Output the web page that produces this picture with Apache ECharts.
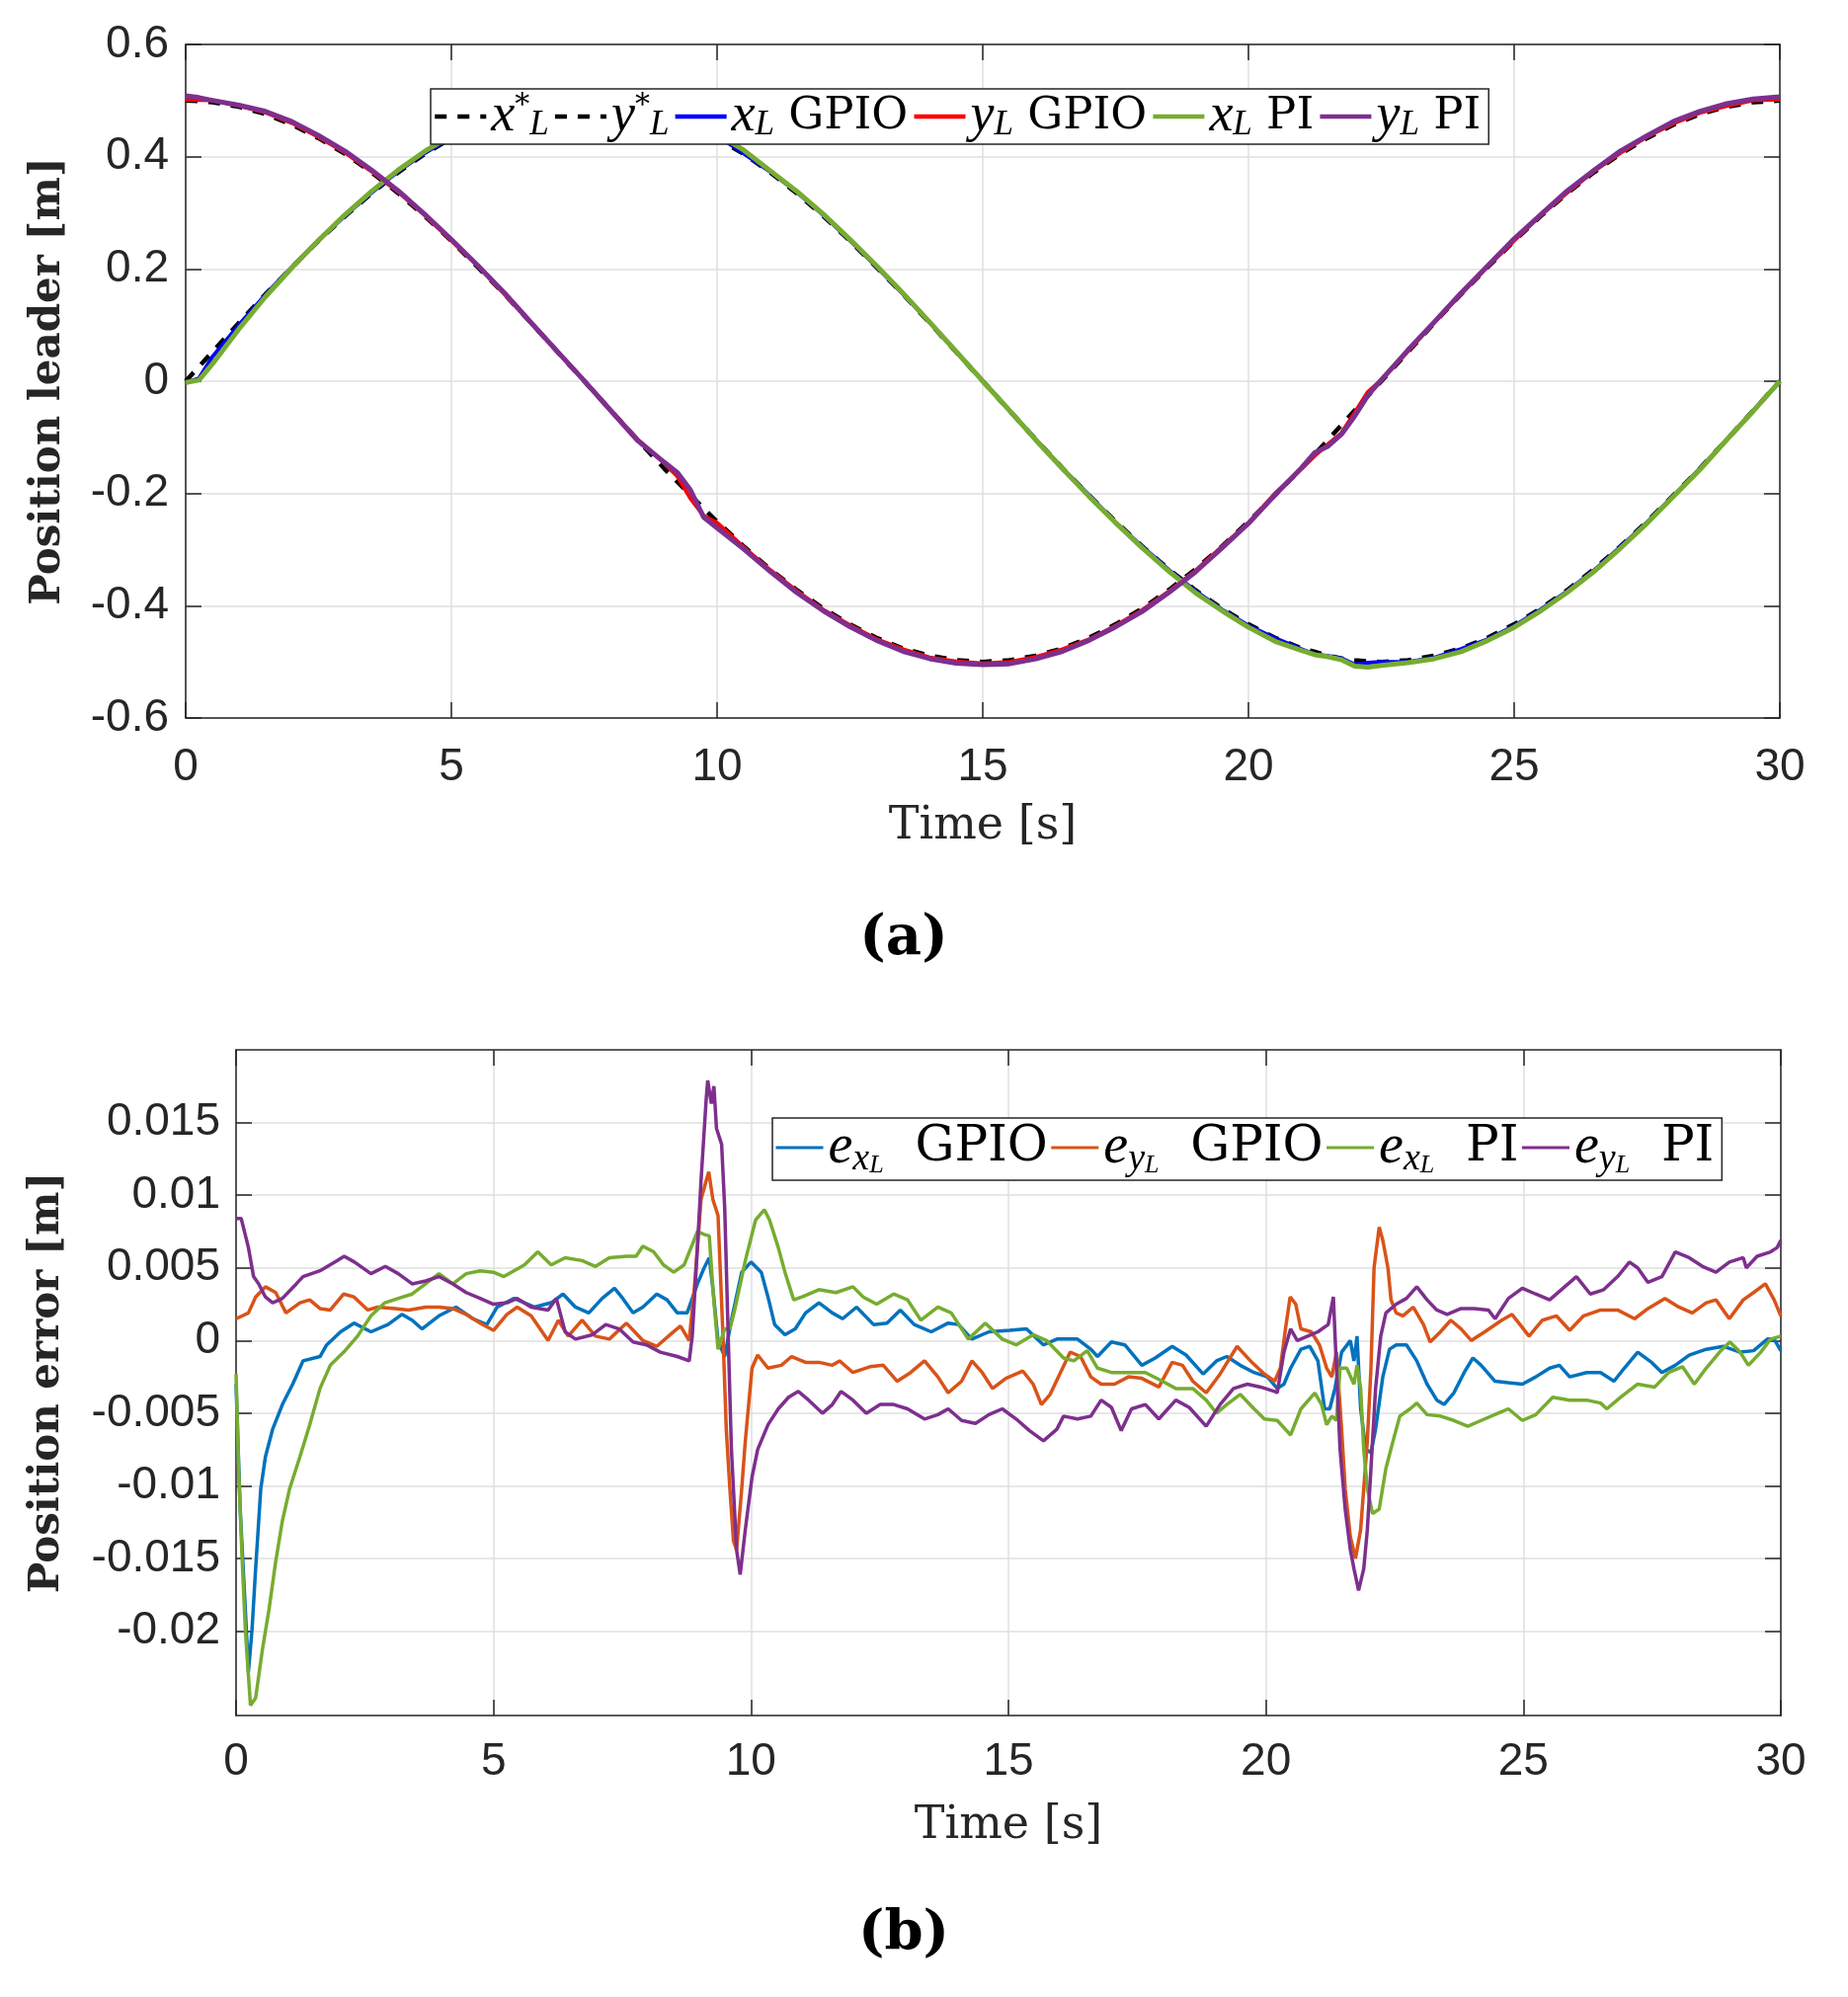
<!DOCTYPE html>
<html>
<head>
<meta charset="utf-8">
<script src="https://cdn.jsdelivr.net/npm/echarts@6.0.0/dist/echarts.min.js"></script>
<style>
  html, body { margin: 0; padding: 0; background: #fff; }
  #chart { width: 1871px; height: 2022px; }
</style>
</head>
<body>
<div id="chart"></div>
<script>
// ---- (a) leader position, sampled times [s] ----
const timeA = [0, 0.25, 0.5, 1, 1.5, 2, 2.5, 3, 3.5, 4, 4.5, 5, 5.5, 6, 6.5, 7, 7.5, 8, 8.5, 9, 9.25, 9.5, 9.75,
  10, 10.5, 11, 11.5, 12, 12.5, 13, 13.5, 14, 14.5, 15, 15.5, 16, 16.5, 17, 17.5, 18, 18.5, 19, 19.5, 20, 20.5,
  21, 21.25, 21.5, 21.75, 22, 22.25, 22.5, 23, 23.5, 24, 24.5, 25, 25.5, 26, 26.5, 27, 27.5, 28, 28.5, 29, 29.5, 30];

const xRef = [0, 0.026, 0.052, 0.104, 0.155, 0.203, 0.25, 0.294, 0.335, 0.372, 0.405, 0.433, 0.457, 0.476, 0.489, 0.497, 0.5, 0.497, 0.489, 0.476, 0.467, 0.457, 0.446,
  0.433, 0.405, 0.372, 0.335, 0.294, 0.25, 0.203, 0.155, 0.104, 0.052, 0, -0.052, -0.104, -0.155, -0.203, -0.25, -0.294, -0.335, -0.372, -0.405, -0.433, -0.457,
  -0.476, -0.482, -0.489, -0.494, -0.497, -0.499, -0.5, -0.497, -0.489, -0.476, -0.457, -0.433, -0.405, -0.372, -0.335, -0.294, -0.25, -0.203, -0.155, -0.104, -0.052, 0];
const yRef = [0.5, 0.499, 0.497, 0.489, 0.476, 0.457, 0.433, 0.405, 0.372, 0.335, 0.294, 0.25, 0.203, 0.155, 0.104, 0.052, 0, -0.052, -0.104, -0.155, -0.179, -0.203, -0.227,
  -0.25, -0.294, -0.335, -0.372, -0.405, -0.433, -0.457, -0.476, -0.489, -0.497, -0.5, -0.497, -0.489, -0.476, -0.457, -0.433, -0.405, -0.372, -0.335, -0.294, -0.25, -0.203,
  -0.155, -0.13, -0.104, -0.078, -0.052, -0.026, 0, 0.052, 0.104, 0.155, 0.203, 0.25, 0.294, 0.335, 0.372, 0.405, 0.433, 0.457, 0.476, 0.489, 0.497, 0.5];
const xGpio = [-0.003, 0.005, 0.043, 0.1, 0.154, 0.2035, 0.251, 0.295, 0.336, 0.374, 0.4065, 0.435, 0.46, 0.478, 0.492, 0.4995, 0.503, 0.499, 0.491, 0.48, 0.471, 0.456, 0.45,
  0.438, 0.406, 0.3735, 0.337, 0.296, 0.251, 0.204, 0.1555, 0.105, 0.0525, 0.0007, -0.052, -0.104, -0.1555, -0.203, -0.2515, -0.2945, -0.336, -0.3735, -0.4067, -0.4355, -0.4575,
  -0.4774, -0.4865, -0.4895, -0.4937, -0.5047, -0.5015, -0.5003, -0.5, -0.4926, -0.4772, -0.4599, -0.436, -0.4069, -0.3742, -0.3372, -0.2953, -0.2514, -0.2038, -0.1554, -0.1045, -0.0527, -0.0007];
const yGpio = [0.5015, 0.501, 0.5006, 0.491, 0.4788, 0.46, 0.4352, 0.4072, 0.3738, 0.3373, 0.2957, 0.2507, 0.2052, 0.1552, 0.1045, 0.0523, 0.001, -0.0521, -0.1034, -0.1453, -0.1692, -0.209, -0.24,
  -0.252, -0.2957, -0.3364, -0.3736, -0.4072, -0.4347, -0.4594, -0.4776, -0.492, -0.4991, -0.5026, -0.5003, -0.4912, -0.4775, -0.46, -0.4356, -0.4075, -0.3746, -0.3378, -0.2947, -0.2526, -0.2,
  -0.1552, -0.1325, -0.112, -0.0923, -0.056, -0.0188, 0.002, 0.0533, 0.105, 0.1551, 0.2043, 0.2508, 0.2956, 0.336, 0.3741, 0.4068, 0.4354, 0.4593, 0.4785, 0.4905, 0.5004, 0.5017];
const xPi = [-0.0023, 0.002, 0.0305, 0.093, 0.1505, 0.2024, 0.251, 0.2968, 0.3385, 0.3764, 0.4096, 0.4377, 0.462, 0.4815, 0.4946, 0.5021, 0.5058, 0.5033, 0.4937, 0.4834, 0.471, 0.4578, 0.4495,
  0.4405, 0.4118, 0.375, 0.3384, 0.2976, 0.2528, 0.2059, 0.1568, 0.1053, 0.0528, 0.0001, -0.0517, -0.105, -0.1558, -0.2052, -0.2522, -0.2968, -0.3383, -0.3768, -0.4087, -0.4384, -0.4633,
  -0.4798, -0.4873, -0.4909, -0.4962, -0.5078, -0.5095, -0.5062, -0.5015, -0.4943, -0.4818, -0.462, -0.4385, -0.4092, -0.3761, -0.3393, -0.2974, -0.2531, -0.2049, -0.1571, -0.1042, -0.0531, 0.0003];
const yPi = [0.5084, 0.5053, 0.5003, 0.4917, 0.4807, 0.4625, 0.4379, 0.4099, 0.376, 0.3393, 0.2973, 0.2525, 0.2057, 0.1571, 0.1043, 0.0526, 0.0006, -0.0523, -0.1051, -0.144, -0.1625, -0.194, -0.2425,
  -0.2613, -0.2989, -0.3389, -0.3766, -0.4091, -0.4374, -0.4617, -0.4812, -0.4943, -0.5023, -0.505, -0.5035, -0.4946, -0.4812, -0.4616, -0.4376, -0.4102, -0.3766, -0.34, -0.2971, -0.2533, -0.2025,
  -0.1544, -0.127, -0.1155, -0.0945, -0.062, -0.0248, 0.0024, 0.0553, 0.1058, 0.1572, 0.2053, 0.2536, 0.2968, 0.3393, 0.3755, 0.4102, 0.4372, 0.463, 0.4811, 0.4944, 0.5028, 0.5069];

// ---- (b) position errors [t, e] ----
const exGpio = [[0,-0.003],[0.08,-0.0116],[0.18,-0.0185],[0.24,-0.0228],[0.31,-0.0199],[0.38,-0.0157],[0.48,-0.0102],[0.57,-0.008],[0.71,-0.0061],[0.9,-0.0044],[1.1,-0.003],[1.3,-0.0014],[1.63,-0.0011],[1.76,-0.0003],[2.03,0.0006],[2.29,0.0012],[2.62,0.0006],[2.95,0.0011],[3.22,0.0018],[3.42,0.0014],[3.61,0.0008],[3.94,0.0017],[4.27,0.0023],[4.6,0.0015],[4.87,0.0011],[5.07,0.0023],[5.4,0.0029],[5.79,0.0023],[6.12,0.0026],[6.35,0.0032],[6.59,0.0023],[6.85,0.0019],[7.11,0.0029],[7.35,0.0036],[7.51,0.0029],[7.71,0.0019],[7.9,0.0023],[8.17,0.0032],[8.37,0.0028],[8.57,0.0019],[8.76,0.0019],[8.96,0.0039],[9.09,0.005],[9.19,0.0057],[9.26,0.0036],[9.36,0],[9.49,-0.0011],[9.62,0.0014],[9.82,0.0047],[10,0.0054],[10.2,0.0047],[10.33,0.003],[10.46,0.0011],[10.66,0.0004],[10.86,0.0008],[11.06,0.0019],[11.32,0.0026],[11.58,0.0019],[11.78,0.0015],[12.05,0.0023],[12.38,0.0011],[12.64,0.0012],[12.9,0.0021],[13.17,0.0011],[13.5,0.0006],[13.83,0.0012],[14.03,0.0011],[14.29,0.0001],[14.62,0.0006],[15.02,0.0007],[15.35,0.0008],[15.68,-0.0003],[15.94,0.0001],[16.34,0.0001],[16.6,-0.0006],[16.73,-0.0011],[17,-0.0001],[17.26,-0.0003],[17.59,-0.0017],[17.85,-0.0012],[18.18,-0.0004],[18.45,-0.001],[18.78,-0.0023],[19.04,-0.0014],[19.24,-0.0011],[19.5,-0.0017],[19.77,-0.0022],[20.03,-0.0025],[20.22,-0.0033],[20.35,-0.003],[20.48,-0.0019],[20.68,-0.0006],[20.85,-0.0004],[21.01,-0.0014],[21.14,-0.0047],[21.24,-0.0047],[21.34,-0.0033],[21.47,-0.0008],[21.64,0],[21.71,-0.0014],[21.77,0.0003],[21.84,-0.0047],[21.94,-0.0075],[22.04,-0.0077],[22.13,-0.0061],[22.27,-0.0025],[22.4,-0.0006],[22.53,-0.0003],[22.73,-0.0003],[22.93,-0.0014],[23.13,-0.003],[23.32,-0.0041],[23.46,-0.0044],[23.65,-0.0036],[23.85,-0.0022],[24.02,-0.0012],[24.18,-0.0017],[24.45,-0.0028],[24.71,-0.0029],[24.98,-0.003],[25.24,-0.0025],[25.51,-0.0019],[25.7,-0.0017],[25.9,-0.0025],[26.23,-0.0022],[26.5,-0.0022],[26.76,-0.0028],[26.96,-0.0019],[27.22,-0.0008],[27.49,-0.0015],[27.69,-0.0022],[27.95,-0.0017],[28.22,-0.001],[28.55,-0.0006],[28.88,-0.0004],[29.21,-0.0008],[29.47,-0.0007],[29.74,0.0001],[29.87,0.0001],[30,-0.0007]];
const eyGpio = [[0,0.0015],[0.24,0.0019],[0.38,0.003],[0.57,0.0037],[0.77,0.0033],[0.97,0.0019],[1.24,0.0026],[1.43,0.0028],[1.63,0.0022],[1.83,0.0021],[2.09,0.0032],[2.29,0.003],[2.56,0.0021],[2.75,0.0023],[3.09,0.0022],[3.35,0.0021],[3.68,0.0023],[3.94,0.0023],[4.21,0.0022],[4.47,0.0018],[4.74,0.0012],[5,0.0007],[5.26,0.0018],[5.46,0.0023],[5.73,0.0017],[6.06,0],[6.26,0.0014],[6.45,0.0003],[6.72,0.0014],[6.98,0.0003],[7.25,0.0001],[7.58,0.0012],[7.9,0],[8.17,-0.0004],[8.43,0.0004],[8.63,0.001],[8.8,0],[8.9,0.0036],[9.03,0.0097],[9.13,0.011],[9.18,0.0116],[9.26,0.0097],[9.36,0.0086],[9.46,0],[9.52,-0.0061],[9.59,-0.0102],[9.66,-0.0138],[9.72,-0.0144],[9.82,-0.0102],[9.89,-0.0069],[10.02,-0.0019],[10.13,-0.001],[10.33,-0.0019],[10.59,-0.0017],[10.79,-0.0011],[11.06,-0.0015],[11.32,-0.0015],[11.58,-0.0017],[11.72,-0.0014],[11.98,-0.0022],[12.31,-0.0018],[12.57,-0.0017],[12.84,-0.0028],[13.1,-0.0022],[13.37,-0.0014],[13.63,-0.0025],[13.83,-0.0036],[14.09,-0.0028],[14.29,-0.0014],[14.49,-0.0022],[14.69,-0.0033],[14.95,-0.0026],[15.28,-0.0021],[15.48,-0.003],[15.64,-0.0044],[15.81,-0.0037],[16.01,-0.0022],[16.2,-0.0008],[16.4,-0.0011],[16.6,-0.0025],[16.8,-0.003],[17.06,-0.003],[17.33,-0.0025],[17.59,-0.0026],[17.92,-0.0032],[18.18,-0.0015],[18.38,-0.0017],[18.58,-0.0028],[18.84,-0.0036],[19.11,-0.0023],[19.44,-0.0004],[19.7,-0.0014],[19.97,-0.0023],[20.17,-0.0028],[20.28,-0.0019],[20.38,0.0008],[20.47,0.003],[20.58,0.0025],[20.68,0.0008],[20.88,0.0006],[21.04,-0.0003],[21.18,-0.0019],[21.28,-0.0025],[21.37,-0.0008],[21.47,-0.0061],[21.54,-0.0102],[21.64,-0.0135],[21.74,-0.015],[21.84,-0.013],[21.9,-0.0102],[21.97,-0.0069],[22.04,-0.0019],[22.1,0.005],[22.2,0.0078],[22.27,0.0069],[22.37,0.005],[22.43,0.0028],[22.53,0.0019],[22.66,0.0017],[22.86,0.0023],[23.06,0.0011],[23.19,-0.0001],[23.39,0.0006],[23.59,0.0014],[23.79,0.0008],[23.99,0],[24.25,0.0006],[24.58,0.0014],[24.78,0.0018],[25.11,0.0003],[25.37,0.0014],[25.64,0.0017],[25.9,0.0007],[26.17,0.0017],[26.5,0.0021],[26.83,0.0021],[27.16,0.0015],[27.42,0.0022],[27.75,0.0029],[28.02,0.0023],[28.28,0.0019],[28.55,0.0026],[28.74,0.0028],[29,0.0015],[29.27,0.0028],[29.47,0.0033],[29.7,0.0039],[29.87,0.0028],[30,0.0017]];
const exPi = [[0,-0.0023],[0.05,-0.0088],[0.11,-0.0144],[0.18,-0.0199],[0.28,-0.0251],[0.38,-0.0246],[0.51,-0.0213],[0.64,-0.0185],[0.77,-0.0152],[0.9,-0.0124],[1.04,-0.0102],[1.24,-0.008],[1.43,-0.0058],[1.63,-0.0033],[1.83,-0.0017],[2.09,-0.0008],[2.36,0.0003],[2.62,0.0017],[2.89,0.0026],[3.15,0.0029],[3.42,0.0032],[3.68,0.0039],[3.94,0.0046],[4.21,0.0039],[4.47,0.0046],[4.74,0.0048],[5,0.0047],[5.2,0.0044],[5.6,0.0052],[5.86,0.0061],[6.12,0.0052],[6.39,0.0057],[6.72,0.0055],[6.98,0.0051],[7.25,0.0057],[7.58,0.0058],[7.77,0.0058],[7.9,0.0065],[8.11,0.0061],[8.3,0.0052],[8.5,0.0047],[8.7,0.0052],[8.86,0.0066],[8.96,0.0075],[9.09,0.0073],[9.19,0.0072],[9.26,0.0036],[9.36,-0.0006],[9.49,0.0008],[9.59,0.0008],[9.69,0.0022],[9.89,0.0055],[10.09,0.0083],[10.26,0.009],[10.36,0.0083],[10.53,0.0064],[10.66,0.0047],[10.83,0.0028],[10.99,0.003],[11.32,0.0035],[11.65,0.0033],[11.98,0.0037],[12.18,0.003],[12.44,0.0025],[12.77,0.0032],[13.04,0.0028],[13.3,0.0014],[13.63,0.0023],[13.89,0.0019],[14.22,0.0001],[14.55,0.0012],[14.88,0.0001],[15.15,-0.0003],[15.48,0.0004],[15.74,0],[16.07,-0.0012],[16.27,-0.0014],[16.53,-0.0007],[16.73,-0.0019],[17,-0.0022],[17.33,-0.0022],[17.66,-0.0022],[17.99,-0.0028],[18.25,-0.0033],[18.58,-0.0033],[18.84,-0.0041],[19.04,-0.005],[19.24,-0.0044],[19.5,-0.0037],[19.77,-0.0047],[19.97,-0.0054],[20.22,-0.0055],[20.48,-0.0065],[20.68,-0.0047],[20.95,-0.0036],[21.08,-0.0044],[21.18,-0.0058],[21.28,-0.0052],[21.37,-0.0055],[21.44,-0.0019],[21.57,-0.0019],[21.71,-0.003],[21.77,-0.0017],[21.84,-0.0033],[21.9,-0.0075],[21.97,-0.0102],[22.07,-0.0119],[22.2,-0.0116],[22.33,-0.0088],[22.47,-0.0069],[22.6,-0.0052],[22.8,-0.0047],[22.93,-0.0043],[23.13,-0.0051],[23.39,-0.0052],[23.65,-0.0055],[23.92,-0.0059],[24.18,-0.0055],[24.51,-0.005],[24.71,-0.0047],[24.98,-0.0055],[25.24,-0.0051],[25.57,-0.0039],[25.9,-0.0041],[26.23,-0.0041],[26.5,-0.0043],[26.62,-0.0047],[26.89,-0.0039],[27.22,-0.003],[27.55,-0.0032],[27.82,-0.0022],[28.09,-0.0018],[28.32,-0.003],[28.55,-0.0019],[28.81,-0.0008],[29.01,-0.0001],[29.21,-0.0008],[29.37,-0.0017],[29.61,-0.0008],[29.8,0.0001],[30,0.0003]];
const eyPi = [[0,0.0084],[0.1,0.0084],[0.24,0.0064],[0.34,0.0044],[0.44,0.0039],[0.57,0.003],[0.71,0.0026],[0.9,0.0029],[1.17,0.0039],[1.3,0.0044],[1.63,0.0048],[1.96,0.0055],[2.1,0.0058],[2.3,0.0054],[2.62,0.0046],[2.9,0.0051],[3.15,0.0046],[3.42,0.0039],[3.68,0.0041],[3.94,0.0044],[4.21,0.0039],[4.47,0.0033],[4.74,0.0029],[5,0.0025],[5.26,0.0026],[5.46,0.0029],[5.73,0.0023],[6.06,0.0021],[6.22,0.0029],[6.39,0.0006],[6.59,0.0001],[6.92,0.0004],[7.18,0.0011],[7.44,0.0008],[7.71,-0.0001],[7.97,-0.0003],[8.24,-0.0008],[8.57,-0.0011],[8.8,-0.0014],[8.86,0.0003],[8.96,0.0064],[9.03,0.011],[9.13,0.0166],[9.16,0.0179],[9.23,0.0163],[9.28,0.0175],[9.33,0.0146],[9.43,0.0135],[9.49,0.0091],[9.56,0],[9.62,-0.0075],[9.72,-0.0144],[9.79,-0.0161],[9.89,-0.013],[10.02,-0.0094],[10.13,-0.0075],[10.33,-0.0058],[10.53,-0.0047],[10.73,-0.0039],[10.92,-0.0035],[11.12,-0.0041],[11.39,-0.005],[11.58,-0.0044],[11.75,-0.0035],[11.98,-0.0041],[12.24,-0.005],[12.51,-0.0044],[12.77,-0.0044],[13.04,-0.0047],[13.37,-0.0054],[13.63,-0.0051],[13.83,-0.0047],[14.09,-0.0055],[14.36,-0.0057],[14.62,-0.0051],[14.88,-0.0047],[15.15,-0.0054],[15.41,-0.0062],[15.68,-0.0069],[15.94,-0.0061],[16.07,-0.0052],[16.34,-0.0054],[16.6,-0.0052],[16.8,-0.0041],[17,-0.0046],[17.19,-0.0062],[17.39,-0.0047],[17.66,-0.0044],[17.92,-0.0054],[18.25,-0.0041],[18.51,-0.0046],[18.84,-0.0059],[19.11,-0.0044],[19.37,-0.0033],[19.64,-0.003],[19.9,-0.0032],[20.17,-0.0035],[20.22,-0.0036],[20.35,-0.0008],[20.48,0.0008],[20.61,0],[20.81,0.0003],[21.01,0.0006],[21.21,0.0011],[21.31,0.003],[21.37,-0.0019],[21.44,-0.0075],[21.54,-0.0116],[21.64,-0.0144],[21.71,-0.0157],[21.8,-0.0172],[21.9,-0.0157],[21.97,-0.013],[22.04,-0.0088],[22.13,-0.0033],[22.23,0.0003],[22.33,0.0019],[22.53,0.0025],[22.73,0.0029],[22.93,0.0037],[23.13,0.0028],[23.32,0.0021],[23.52,0.0018],[23.79,0.0022],[24.05,0.0022],[24.32,0.0021],[24.45,0.0015],[24.71,0.0029],[24.98,0.0036],[25.24,0.0032],[25.51,0.0028],[25.77,0.0036],[26.03,0.0044],[26.3,0.0032],[26.56,0.0035],[26.83,0.0044],[27.06,0.0054],[27.22,0.005],[27.42,0.004],[27.69,0.0044],[27.95,0.0061],[28.22,0.0057],[28.48,0.0051],[28.74,0.0047],[29,0.0054],[29.27,0.0057],[29.33,0.005],[29.54,0.0058],[29.8,0.0061],[29.93,0.0064],[30,0.0069]];

// ticks
const yTicksB = [-0.02, -0.015, -0.01, -0.005, 0, 0.005, 0.01, 0.015];

const AXC = '#262626';
const GRIDC = '#dfdfdf';
const TICKFONT = { fontFamily: 'Liberation Sans', fontSize: 46, color: AXC };

function pairs(t, v) { return t.map((x, i) => [x, v[i]]); }

function mainAxis(gridIndex, pos, o) {
  return Object.assign({
    type: 'value', gridIndex: gridIndex, position: pos,
    axisLine: { show: true, onZero: false, lineStyle: { color: AXC, width: 1.5 } },
    axisTick: { show: true, inside: true, length: 16, lineStyle: { color: AXC, width: 1.5 } },
    axisLabel: Object.assign({ show: true }, TICKFONT),
    splitLine: { show: true, lineStyle: { color: GRIDC, width: 1.5 } }
  }, o);
}
function mirrorAxis(gridIndex, pos, o) {
  return Object.assign({
    type: 'value', gridIndex: gridIndex, position: pos,
    axisLine: { show: true, onZero: false, lineStyle: { color: AXC, width: 1.5 } },
    axisTick: { show: true, inside: true, length: 16, lineStyle: { color: AXC, width: 1.5 } },
    axisLabel: { show: false },
    splitLine: { show: false }
  }, o);
}

const labelA = {
  xs: '{m|x}{sup|*}{sub|L}',
  ys: '{m|y}{sup|*}{sub|L}',
  xg: '{m|x}{sub|L}{t| GPIO}',
  yg: '{m|y}{sub|L}{t| GPIO}',
  xp: '{m|x}{sub|L}{t| PI}',
  yp: '{m|y}{sub|L}{t| PI}'
};
const labelB = {
  exg: '{m|e}{sub|x}{ss|L}{t|  GPIO}',
  eyg: '{m|e}{sub|y}{ss|L}{t|  GPIO}',
  exp: '{m|e}{sub|x}{ss|L}{t|  PI}',
  eyp: '{m|e}{sub|y}{ss|L}{t|  PI}'
};

const chart = echarts.init(document.getElementById('chart'), null, { renderer: 'canvas' });

const yTickFmtB = v => String(+(+v).toFixed(3));

const option = {
  animation: false,
  backgroundColor: '#fff',
  grid: [
    { left: 188, top: 45, width: 1614, height: 682, outerBoundsMode: 'none' },
    { left: 239, top: 1063, width: 1564, height: 674, outerBoundsMode: 'none' }
  ],
  xAxis: [
    mainAxis(0, 'bottom', { min: 0, max: 30, interval: 5,
      axisLabel: Object.assign({ show: true, margin: 27 }, TICKFONT),
      name: 'Time [s]', nameLocation: 'middle', nameGap: 87,
      nameTextStyle: { fontFamily: 'DejaVu Serif', fontSize: 46, color: AXC } }),
    mirrorAxis(0, 'top', { min: 0, max: 30, interval: 5 }),
    mainAxis(1, 'bottom', { min: 0, max: 30, interval: 5,
      axisLabel: Object.assign({ show: true, margin: 24 }, TICKFONT),
      name: 'Time [s]', nameLocation: 'middle', nameGap: 89,
      nameTextStyle: { fontFamily: 'DejaVu Serif', fontSize: 46, color: AXC } }),
    mirrorAxis(1, 'top', { min: 0, max: 30, interval: 5 })
  ],
  yAxis: [
    mainAxis(0, 'left', { min: -0.6, max: 0.6, interval: 0.2,
      axisLabel: Object.assign({ show: true, margin: 17, formatter: v => String(+(+v).toFixed(1)) }, TICKFONT),
      name: 'Position leader [m]', nameLocation: 'middle', nameGap: 118,
      nameTextStyle: { fontFamily: 'DejaVu Serif', fontWeight: 'bold', fontSize: 42, color: AXC } }),
    mirrorAxis(0, 'right', { min: -0.6, max: 0.6, interval: 0.2 }),
    mainAxis(1, 'left', { min: -0.0258, max: 0.02,
      axisTick: { show: true, inside: true, length: 16, customValues: yTicksB, lineStyle: { color: AXC, width: 1.5 } },
      axisLabel: Object.assign({ show: true, margin: 16, customValues: yTicksB, formatter: yTickFmtB }, TICKFONT),
      splitLine: { show: true, lineStyle: { color: GRIDC, width: 1.5 } },
      name: 'Position error [m]', nameLocation: 'middle', nameGap: 170,
      nameTextStyle: { fontFamily: 'DejaVu Serif', fontWeight: 'bold', fontSize: 42, color: AXC } }),
    mirrorAxis(1, 'right', { min: -0.0258, max: 0.02,
      axisTick: { show: true, inside: true, length: 16, customValues: yTicksB, lineStyle: { color: AXC, width: 1.5 } } })
  ],
  legend: [
    {
      left: 436, top: 90, orient: 'horizontal', itemGap: 4, itemWidth: 52, itemHeight: 20,
      padding: [1, 8, 1, 2], borderColor: '#262626', borderWidth: 1.5, backgroundColor: '#fff',
      itemStyle: { opacity: 0 },
      lineStyle: { width: 4.5 },
      data: ['xs', 'ys', 'xg', 'yg', 'xp', 'yp'],
      formatter: n => labelA[n],
      textStyle: {
        rich: {
          m: { fontFamily: 'Liberation Serif', fontStyle: 'italic', fontSize: 54, color: '#000', lineHeight: 52, verticalAlign: 'middle' },
          t: { fontFamily: 'DejaVu Serif', fontSize: 45, color: '#000', lineHeight: 52, verticalAlign: 'middle' },
          sup: { fontFamily: 'DejaVu Serif', fontSize: 30, color: '#000', lineHeight: 30, verticalAlign: 'top' },
          sub: { fontFamily: 'Liberation Serif', fontStyle: 'italic', fontSize: 35, color: '#000', lineHeight: 32, verticalAlign: 'bottom' }
        }
      }
    },
    {
      left: 782, top: 1132, orient: 'horizontal', itemGap: 2, itemWidth: 48, itemHeight: 20,
      padding: [2, 8, 2, 2], borderColor: '#262626', borderWidth: 1.5, backgroundColor: '#fff',
      itemStyle: { opacity: 0 },
      lineStyle: { width: 3 },
      data: ['exg', 'eyg', 'exp', 'eyp'],
      formatter: n => labelB[n],
      textStyle: {
        rich: {
          m: { fontFamily: 'Liberation Serif', fontStyle: 'italic', fontSize: 56, color: '#000', lineHeight: 62, verticalAlign: 'middle' },
          t: { fontFamily: 'DejaVu Serif', fontSize: 50, color: '#000', lineHeight: 62, verticalAlign: 'middle' },
          sub: { fontFamily: 'Liberation Serif', fontStyle: 'italic', fontSize: 38, color: '#000', lineHeight: 46, verticalAlign: 'bottom' },
          ss: { fontFamily: 'Liberation Serif', fontStyle: 'italic', fontSize: 26, color: '#000', lineHeight: 26, verticalAlign: 'bottom' }
        }
      }
    }
  ],
  graphic: [
    { type: 'text', x: 915, y: 951, style: { text: '(a)', font: 'bold 56px "DejaVu Serif"', fill: '#000', textAlign: 'center', textVerticalAlign: 'middle' } },
    { type: 'text', x: 915, y: 1959, style: { text: '(b)', font: 'bold 56px "DejaVu Serif"', fill: '#000', textAlign: 'center', textVerticalAlign: 'middle' } }
  ],
  series: [
    { name: 'xs', data: pairs(timeA, xRef), color: '#000', lineStyle: { color: '#000', width: 4.5, type: [12, 11] } },
    { name: 'ys', data: pairs(timeA, yRef), color: '#000', lineStyle: { color: '#000', width: 4.5, type: [12, 11] } },
    { name: 'xg', data: pairs(timeA, xGpio), color: '#0000ff', lineStyle: { color: '#0000ff', width: 4 } },
    { name: 'yg', data: pairs(timeA, yGpio), color: '#ff0000', lineStyle: { color: '#ff0000', width: 4 } },
    { name: 'xp', data: pairs(timeA, xPi), color: '#77ac30', lineStyle: { color: '#77ac30', width: 5 } },
    { name: 'yp', data: pairs(timeA, yPi), color: '#7e2f8e', lineStyle: { color: '#7e2f8e', width: 5 } },
    { name: 'exg', xAxisIndex: 2, yAxisIndex: 2, data: exGpio, color: '#0072bd', lineStyle: { color: '#0072bd', width: 3.5 } },
    { name: 'eyg', xAxisIndex: 2, yAxisIndex: 2, data: eyGpio, color: '#d95319', lineStyle: { color: '#d95319', width: 3.5 } },
    { name: 'exp', xAxisIndex: 2, yAxisIndex: 2, data: exPi, color: '#77ac30', lineStyle: { color: '#77ac30', width: 3.5 } },
    { name: 'eyp', xAxisIndex: 2, yAxisIndex: 2, data: eyPi, color: '#7e2f8e', lineStyle: { color: '#7e2f8e', width: 3.5 } }
  ].map(s => Object.assign({ type: 'line', showSymbol: false, symbol: 'none', silent: true, xAxisIndex: 0, yAxisIndex: 0 }, s))
};

chart.setOption(option);
</script>
</body>
</html>
